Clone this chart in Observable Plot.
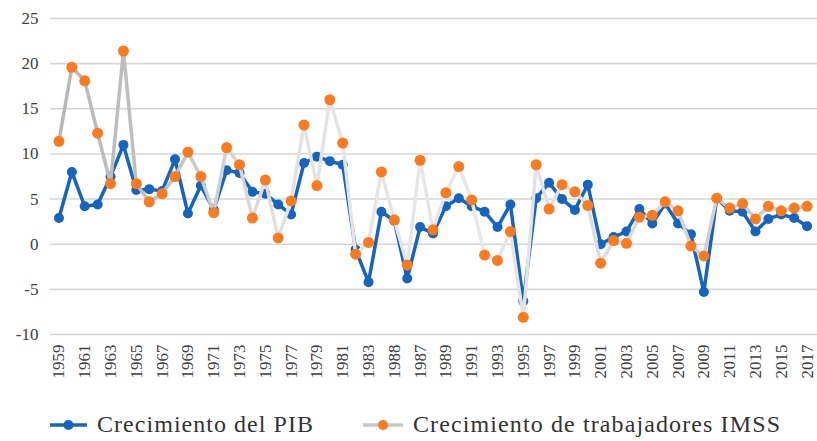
<!DOCTYPE html>
<html><head><meta charset="utf-8">
<script src="https://cdn.jsdelivr.net/npm/d3@7"></script>
<script src="https://cdn.jsdelivr.net/npm/@observablehq/plot@0.6"></script>
<style>
body{margin:0;background:#fff;}
#wrap{position:relative;width:817px;height:441px;overflow:hidden;}
#chart svg{display:block;font-family:"Liberation Serif","DejaVu Serif",serif !important;}
#chart svg text{font-family:"Liberation Serif","DejaVu Serif",serif !important;}
</style></head><body><div id="wrap"><div id="chart"></div><div id="legend"></div></div>
<script>
const years=[1959,1960,1961,1962,1963,1964,1965,1966,1967,1968,1969,1970,1971,1972,1973,1974,1975,1976,1977,1978,1979,1980,1981,1982,1983,1984,1985,1986,1987,1988,1989,1990,1991,1992,1993,1994,1995,1996,1997,1998,1999,2000,2001,2002,2003,2004,2005,2006,2007,2008,2009,2010,2011,2012,2013,2014,2015,2016,2017];
const pib=[2.9,8.0,4.2,4.4,7.5,11.0,6.0,6.1,5.9,9.4,3.4,6.5,3.8,8.2,7.9,5.8,5.6,4.4,3.3,9.0,9.7,9.2,8.8,-0.6,-4.2,3.6,2.6,-3.8,1.9,1.2,4.2,5.1,4.2,3.6,1.9,4.4,-6.3,5.1,6.8,5.0,3.8,6.6,0.0,0.8,1.4,3.9,2.3,4.5,2.3,1.1,-5.3,5.1,3.7,3.6,1.4,2.8,3.3,2.9,2.0];
const imss=[11.4,19.6,18.1,12.3,6.7,21.4,6.7,4.7,5.6,7.5,10.2,7.5,3.5,10.7,8.8,2.9,7.1,0.7,4.8,13.2,6.5,16.0,11.2,-1.1,0.2,8.0,2.7,-2.3,9.3,1.6,5.7,8.6,4.9,-1.2,-1.8,1.4,-8.1,8.8,3.9,6.6,5.8,4.3,-2.1,0.4,0.1,3.0,3.2,4.7,3.7,-0.2,-1.3,5.1,4.0,4.5,2.8,4.2,3.7,4.0,4.2];
const tickYears=[1959,1961,1963,1965,1967,1969,1971,1973,1975,1977,1979,1981,1983,1985,1987,1989,1991,1993,1995,1997,1999,2001,2003,2005,2007,2009,2011,2013,2015,2017];
const tickLabels=["1959","1961","1963","1965","1967","1969","1971","1973","1975","1977","1979","1981","1983","1988","1987","1989","1991","1993","1995","1997","1999","2001","2003","2005","2007","2009","2011","2013","2015","2017"];
const yTicks=[-10,-5,0,5,10,15,20,25];
const seriesNames=["Crecimiento del PIB","Crecimiento de trabajadores IMSS"];

const FONT='"Liberation Serif", "DejaVu Serif", serif';
const BLUE="#1565c0", ORANGE="#fb7b1e", GREY="#c9c9c9";
const rows=years.map((y,i)=>({year:y,pib:pib[i],imss:imss[i]}));
const labelOf=new Map(tickYears.map((y,i)=>[y,tickLabels[i]]));

const plot=Plot.plot({
  width:817,height:400,marginLeft:52,marginRight:4,marginTop:18,marginBottom:66,
  style:{fontFamily:FONT,fontSize:"17px",color:"#404040",background:"#fff",overflow:"visible"},
  x:{type:"point",domain:years,padding:0.5,axis:null,label:null},
  y:{domain:[-10,25],axis:null,label:null},
  marks:[
    Plot.ruleY(yTicks,{stroke:"#d6d6d6",strokeWidth:1.6,insetLeft:-2,insetRight:-4}),
    Plot.axisY({ticks:yTicks,tickSize:0,tickPadding:14,tickFormat:d=>String(d),fontSize:17,fontFamily:FONT,label:null,fill:"#404040"}),
    Plot.axisX({ticks:tickYears,tickSize:0,tickRotate:-90,tickPadding:10,tickFormat:d=>labelOf.get(d),fontSize:17,fontFamily:FONT,label:null,fill:"#404040"}),
    Plot.line(rows,{x:"year",y:"pib",stroke:BLUE,strokeWidth:3.5}),
    Plot.dot(rows,{x:"year",y:"pib",fill:BLUE,r:5}),
    Plot.line(rows,{x:"year",y:"imss",stroke:"url(#grayGrad)",strokeWidth:3.5}),
    Plot.dot(rows,{x:"year",y:"imss",fill:ORANGE,r:5.5})
  ]
});
const ns="http://www.w3.org/2000/svg";
const defs=document.createElementNS(ns,"defs");
const lg=document.createElementNS(ns,"linearGradient");
lg.setAttribute("id","grayGrad");lg.setAttribute("gradientUnits","userSpaceOnUse");
lg.setAttribute("x1","52");lg.setAttribute("x2","817");lg.setAttribute("y1","0");lg.setAttribute("y2","0");
[[0,"#b6b6b6"],[0.15,"#c2c2c2"],[0.3,"#e2e2e2"],[0.55,"#e8e8e8"],[0.75,"#dadada"],[1,"#c6c6c6"]].forEach(([o,c])=>{
  const s=document.createElementNS(ns,"stop");s.setAttribute("offset",o);s.setAttribute("stop-color",c);lg.appendChild(s);
});
defs.appendChild(lg);plot.insertBefore(defs,plot.firstChild);
document.getElementById("chart").appendChild(plot);

// legend below the chart
const leg=d3.select("#legend").append("svg").attr("width",817).attr("height",41)
  .style("display","block").attr("font-family",FONT);
const g1=leg.append("g");
g1.append("line").attr("x1",50).attr("x2",87).attr("y1",25).attr("y2",25).attr("stroke",BLUE).attr("stroke-width",3.5);
g1.append("circle").attr("cx",68.5).attr("cy",25).attr("r",5).attr("fill",BLUE);
g1.append("text").attr("x",97).attr("y",32).attr("font-size",24).attr("fill","#333")
  .attr("textLength",216).attr("lengthAdjust","spacing").text(seriesNames[0]);
const g2=leg.append("g");
g2.append("line").attr("x1",363).attr("x2",403).attr("y1",25).attr("y2",25).attr("stroke",GREY).attr("stroke-width",3.5);
g2.append("circle").attr("cx",383).attr("cy",25).attr("r",5).attr("fill",ORANGE);
g2.append("text").attr("x",413).attr("y",32).attr("font-size",24).attr("fill","#333")
  .attr("textLength",367).attr("lengthAdjust","spacing").text(seriesNames[1]);
</script></body></html>
